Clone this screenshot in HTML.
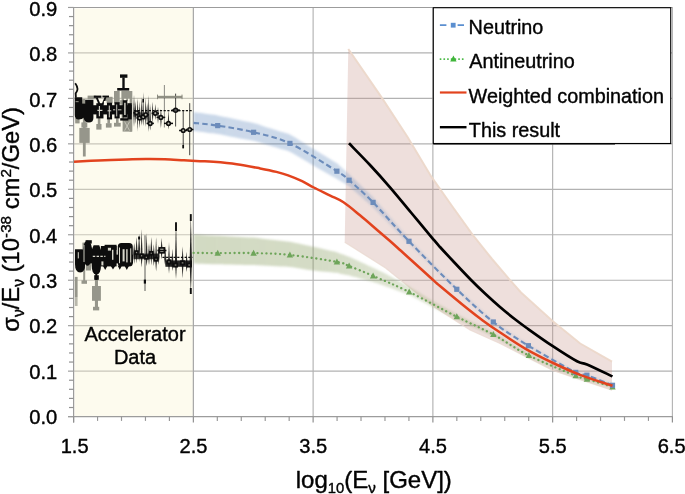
<!DOCTYPE html>
<html><head><meta charset="utf-8"><title>chart</title>
<style>
html,body{margin:0;padding:0;background:#fff;}
body{width:685px;height:494px;overflow:hidden;position:relative;font-family:"Liberation Sans",sans-serif;}
svg{position:absolute;left:0;top:0;}
text{font-family:"Liberation Sans",sans-serif;fill:#000;stroke:#000;stroke-width:0.4px;stroke-linejoin:round;}
</style></head><body>
<svg width="685" height="494" viewBox="0 0 685 494">
<defs>
<filter id="b1" x="-5%" y="-20%" width="110%" height="140%"><feGaussianBlur stdDeviation="0.9"/></filter>
<filter id="b2" x="-5%" y="-5%" width="110%" height="110%"><feGaussianBlur stdDeviation="0.45"/></filter>
<filter id="b3" x="-5%" y="-5%" width="110%" height="110%"><feGaussianBlur stdDeviation="0.35"/></filter>
<filter id="b4" x="-5%" y="-5%" width="110%" height="110%"><feGaussianBlur stdDeviation="0.3"/></filter>
<linearGradient id="gg" gradientUnits="userSpaceOnUse" x1="193" y1="0" x2="613" y2="0"><stop offset="0" stop-color="rgb(140,160,100)" stop-opacity="0.39"/><stop offset="0.3" stop-color="rgb(140,160,100)" stop-opacity="0.37"/><stop offset="0.52" stop-color="rgb(140,160,100)" stop-opacity="0.26"/><stop offset="1" stop-color="rgb(140,160,100)" stop-opacity="0.22"/></linearGradient>
<linearGradient id="bg" gradientUnits="userSpaceOnUse" x1="193" y1="0" x2="613" y2="0"><stop offset="0" stop-color="rgb(100,140,190)" stop-opacity="0.34"/><stop offset="0.33" stop-color="rgb(100,140,190)" stop-opacity="0.32"/><stop offset="0.5" stop-color="rgb(100,140,190)" stop-opacity="0.2"/><stop offset="1" stop-color="rgb(100,140,190)" stop-opacity="0.15"/></linearGradient>
<clipPath id="plot"><rect x="74" y="7" width="598.5" height="409.5"/></clipPath>
</defs>
<rect x="0" y="0" width="685" height="494" fill="#ffffff"/>

<line x1="73.6" x2="672.4" y1="371.14" y2="371.14" stroke="#b2b2b2" stroke-width="1.15"/>
<line x1="73.6" x2="672.4" y1="325.68" y2="325.68" stroke="#b2b2b2" stroke-width="1.15"/>
<line x1="73.6" x2="672.4" y1="280.22" y2="280.22" stroke="#b2b2b2" stroke-width="1.15"/>
<line x1="73.6" x2="672.4" y1="234.76" y2="234.76" stroke="#b2b2b2" stroke-width="1.15"/>
<line x1="73.6" x2="672.4" y1="189.30" y2="189.30" stroke="#b2b2b2" stroke-width="1.15"/>
<line x1="73.6" x2="672.4" y1="143.84" y2="143.84" stroke="#b2b2b2" stroke-width="1.15"/>
<line x1="73.6" x2="672.4" y1="98.38" y2="98.38" stroke="#b2b2b2" stroke-width="1.15"/>
<line x1="73.6" x2="672.4" y1="52.92" y2="52.92" stroke="#b2b2b2" stroke-width="1.15"/>
<line y1="7.4" y2="416.6" x1="313.12" x2="313.12" stroke="#b2b2b2" stroke-width="1.15"/>
<line y1="7.4" y2="416.6" x1="432.88" x2="432.88" stroke="#b2b2b2" stroke-width="1.15"/>
<line y1="7.4" y2="416.6" x1="552.64" x2="552.64" stroke="#b2b2b2" stroke-width="1.15"/>
<rect x="74.4" y="8.4" width="118.5" height="407.5" fill="#fdfbee"/>
<line x1="74.4" x2="192.86" y1="371.14" y2="371.14" stroke="#c8c6ba" stroke-width="1.15"/>
<line x1="74.4" x2="192.86" y1="325.68" y2="325.68" stroke="#c8c6ba" stroke-width="1.15"/>
<line x1="74.4" x2="192.86" y1="280.22" y2="280.22" stroke="#c8c6ba" stroke-width="1.15"/>
<line x1="74.4" x2="192.86" y1="234.76" y2="234.76" stroke="#c8c6ba" stroke-width="1.15"/>
<line x1="74.4" x2="192.86" y1="189.30" y2="189.30" stroke="#c8c6ba" stroke-width="1.15"/>
<line x1="74.4" x2="192.86" y1="143.84" y2="143.84" stroke="#c8c6ba" stroke-width="1.15"/>
<line x1="74.4" x2="192.86" y1="98.38" y2="98.38" stroke="#c8c6ba" stroke-width="1.15"/>
<line x1="74.4" x2="192.86" y1="52.92" y2="52.92" stroke="#c8c6ba" stroke-width="1.15"/>
<line y1="7.4" y2="416.6" x1="193.36" x2="193.36" stroke="#a6a6a6" stroke-width="1.2"/>
<line x1="68.0" x2="672.9" y1="7.45" y2="7.45" stroke="#9c9c9c" stroke-width="1.15"/>
<line x1="672.4" x2="672.4" y1="7" y2="416.6" stroke="#b4b4b4" stroke-width="1.15"/>
<line x1="73.6" x2="73.6" y1="7" y2="422.5" stroke="#9c9c9c" stroke-width="1.2"/>
<line x1="68.0" x2="672.9" y1="416.6" y2="416.6" stroke="#9c9c9c" stroke-width="1.2"/>
<line x1="68.0" x2="73.6" y1="416.60" y2="416.60" stroke="#9c9c9c" stroke-width="1.15"/>
<line x1="69.0" x2="73.6" y1="407.51" y2="407.51" stroke="#929292" stroke-width="1.2"/>
<line x1="69.0" x2="73.6" y1="398.42" y2="398.42" stroke="#929292" stroke-width="1.2"/>
<line x1="69.0" x2="73.6" y1="389.32" y2="389.32" stroke="#929292" stroke-width="1.2"/>
<line x1="69.0" x2="73.6" y1="380.23" y2="380.23" stroke="#929292" stroke-width="1.2"/>
<line x1="68.0" x2="73.6" y1="371.14" y2="371.14" stroke="#9c9c9c" stroke-width="1.15"/>
<line x1="69.0" x2="73.6" y1="362.05" y2="362.05" stroke="#929292" stroke-width="1.2"/>
<line x1="69.0" x2="73.6" y1="352.96" y2="352.96" stroke="#929292" stroke-width="1.2"/>
<line x1="69.0" x2="73.6" y1="343.86" y2="343.86" stroke="#929292" stroke-width="1.2"/>
<line x1="69.0" x2="73.6" y1="334.77" y2="334.77" stroke="#929292" stroke-width="1.2"/>
<line x1="68.0" x2="73.6" y1="325.68" y2="325.68" stroke="#9c9c9c" stroke-width="1.15"/>
<line x1="69.0" x2="73.6" y1="316.59" y2="316.59" stroke="#929292" stroke-width="1.2"/>
<line x1="69.0" x2="73.6" y1="307.50" y2="307.50" stroke="#929292" stroke-width="1.2"/>
<line x1="69.0" x2="73.6" y1="298.40" y2="298.40" stroke="#929292" stroke-width="1.2"/>
<line x1="69.0" x2="73.6" y1="289.31" y2="289.31" stroke="#929292" stroke-width="1.2"/>
<line x1="68.0" x2="73.6" y1="280.22" y2="280.22" stroke="#9c9c9c" stroke-width="1.15"/>
<line x1="69.0" x2="73.6" y1="271.13" y2="271.13" stroke="#929292" stroke-width="1.2"/>
<line x1="69.0" x2="73.6" y1="262.04" y2="262.04" stroke="#929292" stroke-width="1.2"/>
<line x1="69.0" x2="73.6" y1="252.94" y2="252.94" stroke="#929292" stroke-width="1.2"/>
<line x1="69.0" x2="73.6" y1="243.85" y2="243.85" stroke="#929292" stroke-width="1.2"/>
<line x1="68.0" x2="73.6" y1="234.76" y2="234.76" stroke="#9c9c9c" stroke-width="1.15"/>
<line x1="69.0" x2="73.6" y1="225.67" y2="225.67" stroke="#929292" stroke-width="1.2"/>
<line x1="69.0" x2="73.6" y1="216.58" y2="216.58" stroke="#929292" stroke-width="1.2"/>
<line x1="69.0" x2="73.6" y1="207.48" y2="207.48" stroke="#929292" stroke-width="1.2"/>
<line x1="69.0" x2="73.6" y1="198.39" y2="198.39" stroke="#929292" stroke-width="1.2"/>
<line x1="68.0" x2="73.6" y1="189.30" y2="189.30" stroke="#9c9c9c" stroke-width="1.15"/>
<line x1="69.0" x2="73.6" y1="180.21" y2="180.21" stroke="#929292" stroke-width="1.2"/>
<line x1="69.0" x2="73.6" y1="171.12" y2="171.12" stroke="#929292" stroke-width="1.2"/>
<line x1="69.0" x2="73.6" y1="162.02" y2="162.02" stroke="#929292" stroke-width="1.2"/>
<line x1="69.0" x2="73.6" y1="152.93" y2="152.93" stroke="#929292" stroke-width="1.2"/>
<line x1="68.0" x2="73.6" y1="143.84" y2="143.84" stroke="#9c9c9c" stroke-width="1.15"/>
<line x1="69.0" x2="73.6" y1="134.75" y2="134.75" stroke="#929292" stroke-width="1.2"/>
<line x1="69.0" x2="73.6" y1="125.66" y2="125.66" stroke="#929292" stroke-width="1.2"/>
<line x1="69.0" x2="73.6" y1="116.56" y2="116.56" stroke="#929292" stroke-width="1.2"/>
<line x1="69.0" x2="73.6" y1="107.47" y2="107.47" stroke="#929292" stroke-width="1.2"/>
<line x1="68.0" x2="73.6" y1="98.38" y2="98.38" stroke="#9c9c9c" stroke-width="1.15"/>
<line x1="69.0" x2="73.6" y1="89.29" y2="89.29" stroke="#929292" stroke-width="1.2"/>
<line x1="69.0" x2="73.6" y1="80.20" y2="80.20" stroke="#929292" stroke-width="1.2"/>
<line x1="69.0" x2="73.6" y1="71.10" y2="71.10" stroke="#929292" stroke-width="1.2"/>
<line x1="69.0" x2="73.6" y1="62.01" y2="62.01" stroke="#929292" stroke-width="1.2"/>
<line x1="68.0" x2="73.6" y1="52.92" y2="52.92" stroke="#9c9c9c" stroke-width="1.15"/>
<line x1="69.0" x2="73.6" y1="43.83" y2="43.83" stroke="#929292" stroke-width="1.2"/>
<line x1="69.0" x2="73.6" y1="34.74" y2="34.74" stroke="#929292" stroke-width="1.2"/>
<line x1="69.0" x2="73.6" y1="25.64" y2="25.64" stroke="#929292" stroke-width="1.2"/>
<line x1="69.0" x2="73.6" y1="16.55" y2="16.55" stroke="#929292" stroke-width="1.2"/>
<line x1="68.0" x2="73.6" y1="7.46" y2="7.46" stroke="#9c9c9c" stroke-width="1.15"/>
<line y1="416.6" y2="422.5" x1="73.60" x2="73.60" stroke="#909090" stroke-width="1.2"/>
<line y1="416.6" y2="420.9" x1="97.55" x2="97.55" stroke="#969696" stroke-width="1.15"/>
<line y1="416.6" y2="420.9" x1="121.50" x2="121.50" stroke="#969696" stroke-width="1.15"/>
<line y1="416.6" y2="420.9" x1="145.46" x2="145.46" stroke="#969696" stroke-width="1.15"/>
<line y1="416.6" y2="420.9" x1="169.41" x2="169.41" stroke="#969696" stroke-width="1.15"/>
<line y1="416.6" y2="422.5" x1="193.36" x2="193.36" stroke="#909090" stroke-width="1.2"/>
<line y1="416.6" y2="420.9" x1="217.31" x2="217.31" stroke="#969696" stroke-width="1.15"/>
<line y1="416.6" y2="420.9" x1="241.26" x2="241.26" stroke="#969696" stroke-width="1.15"/>
<line y1="416.6" y2="420.9" x1="265.22" x2="265.22" stroke="#969696" stroke-width="1.15"/>
<line y1="416.6" y2="420.9" x1="289.17" x2="289.17" stroke="#969696" stroke-width="1.15"/>
<line y1="416.6" y2="422.5" x1="313.12" x2="313.12" stroke="#909090" stroke-width="1.2"/>
<line y1="416.6" y2="420.9" x1="337.07" x2="337.07" stroke="#969696" stroke-width="1.15"/>
<line y1="416.6" y2="420.9" x1="361.02" x2="361.02" stroke="#969696" stroke-width="1.15"/>
<line y1="416.6" y2="420.9" x1="384.98" x2="384.98" stroke="#969696" stroke-width="1.15"/>
<line y1="416.6" y2="420.9" x1="408.93" x2="408.93" stroke="#969696" stroke-width="1.15"/>
<line y1="416.6" y2="422.5" x1="432.88" x2="432.88" stroke="#909090" stroke-width="1.2"/>
<line y1="416.6" y2="420.9" x1="456.83" x2="456.83" stroke="#969696" stroke-width="1.15"/>
<line y1="416.6" y2="420.9" x1="480.78" x2="480.78" stroke="#969696" stroke-width="1.15"/>
<line y1="416.6" y2="420.9" x1="504.74" x2="504.74" stroke="#969696" stroke-width="1.15"/>
<line y1="416.6" y2="420.9" x1="528.69" x2="528.69" stroke="#969696" stroke-width="1.15"/>
<line y1="416.6" y2="422.5" x1="552.64" x2="552.64" stroke="#909090" stroke-width="1.2"/>
<line y1="416.6" y2="420.9" x1="576.59" x2="576.59" stroke="#969696" stroke-width="1.15"/>
<line y1="416.6" y2="420.9" x1="600.54" x2="600.54" stroke="#969696" stroke-width="1.15"/>
<line y1="416.6" y2="420.9" x1="624.50" x2="624.50" stroke="#969696" stroke-width="1.15"/>
<line y1="416.6" y2="420.9" x1="648.45" x2="648.45" stroke="#969696" stroke-width="1.15"/>
<line y1="416.6" y2="422.5" x1="672.40" x2="672.40" stroke="#909090" stroke-width="1.2"/>
<path d="M348.30,49.00 L381.90,97.90 L407.70,137.30 L431.30,176.70 L452.00,206.00 L472.50,234.70 L492.00,259.00 L509.60,279.70 L521.00,292.50 L552.80,321.20 L580.20,343.50 L612.00,361.70 L612.00,390.20 L552.80,370.40 L500.00,343.50 L470.00,330.00 L432.60,306.00 L385.50,268.00 L344.70,242.20 Z" fill="rgba(200,150,140,0.30)" stroke="none"/>
<path d="M348.30,49.00 L381.90,97.90 L407.70,137.30 L431.30,176.70 L452.00,206.00 L472.50,234.70 L492.00,259.00 L509.60,279.70 L521.00,292.50 L552.80,321.20 L580.20,343.50 L612.00,361.70" fill="none" stroke="rgba(236,216,202,0.95)" stroke-width="2.0" filter="url(#b2)"/>
<path d="M344.70,242.20 L385.50,268.00 L432.60,306.00 L470.00,330.00 L500.00,343.50 L552.80,370.40 L612.00,390.20" fill="none" stroke="rgba(232,215,205,0.7)" stroke-width="1.2"/>
<path d="M193.60,234.50 C194.60,234.56 197.62,234.73 199.62,234.84 C201.63,234.95 203.64,235.07 205.65,235.18 C207.66,235.29 209.67,235.40 211.67,235.52 C213.68,235.63 215.20,235.73 217.70,235.86 C220.20,235.99 223.68,236.14 226.67,236.29 C229.67,236.43 232.66,236.58 235.65,236.72 C238.64,236.86 241.63,237.01 244.62,237.15 C247.62,237.29 250.59,237.33 253.60,237.58 C256.61,237.83 259.65,238.28 262.68,238.63 C265.70,238.98 268.73,239.33 271.75,239.68 C274.77,240.03 277.80,240.39 280.82,240.74 C283.85,241.09 286.43,241.20 289.90,241.79 C293.37,242.39 297.73,243.48 301.65,244.33 C305.57,245.17 309.48,246.00 313.40,246.86 C317.32,247.72 321.23,248.62 325.15,249.51 C329.07,250.39 334.43,251.51 336.90,252.16 C339.37,252.81 338.93,253.02 339.95,253.42 C340.97,253.82 341.98,254.19 343.00,254.57 C344.02,254.95 345.03,255.33 346.05,255.72 C347.07,256.10 347.59,256.22 349.10,256.86 C350.61,257.51 353.10,258.67 355.10,259.58 C357.10,260.48 359.10,261.39 361.10,262.29 C363.10,263.20 365.10,264.10 367.10,264.99 C369.10,265.89 370.60,266.49 373.10,267.67 C375.60,268.85 379.12,270.55 382.12,272.08 C385.13,273.62 388.14,275.27 391.15,276.86 C394.16,278.45 397.17,280.05 400.18,281.64 C403.18,283.23 405.71,284.41 409.20,286.42 C412.69,288.42 417.13,291.24 421.10,293.66 C425.07,296.07 429.03,298.61 433.00,300.90 C436.97,303.19 440.93,305.25 444.90,307.42 C448.87,309.60 453.30,312.07 456.80,313.94 C460.30,315.81 462.88,317.09 465.93,318.64 C468.97,320.19 472.01,321.71 475.05,323.22 C478.09,324.73 481.13,326.21 484.18,327.71 C487.22,329.21 490.30,330.57 493.30,332.20 C496.30,333.83 499.23,335.72 502.20,337.49 C505.17,339.25 508.13,341.01 511.10,342.77 C514.07,344.54 517.03,346.30 520.00,348.06 C522.97,349.82 525.47,351.62 528.90,353.35 C532.33,355.08 536.70,356.75 540.60,358.45 C544.50,360.15 548.40,361.85 552.30,363.55 C556.20,365.25 560.10,366.95 564.00,368.65 C567.90,370.35 573.28,372.75 575.70,373.75 C578.12,374.74 577.57,374.32 578.50,374.61 C579.43,374.89 580.37,375.18 581.30,375.47 C582.23,375.76 583.17,376.04 584.10,376.33 C585.03,376.62 585.37,376.72 586.90,377.19 C588.43,377.67 591.17,378.51 593.30,379.17 C595.43,379.83 597.57,380.49 599.70,381.15 C601.83,381.81 603.97,382.46 606.10,383.12 C608.23,383.78 611.43,384.77 612.50,385.10 L612.50,388.70 C611.43,388.38 608.23,387.42 606.10,386.78 C603.97,386.14 601.83,385.49 599.70,384.85 C597.57,384.21 595.43,383.57 593.30,382.93 C591.17,382.29 588.43,381.47 586.90,381.01 C585.37,380.55 585.03,380.45 584.10,380.17 C583.17,379.89 582.23,379.61 581.30,379.33 C580.37,379.05 579.43,378.77 578.50,378.49 C577.57,378.21 578.12,378.63 575.70,377.65 C573.28,376.68 567.90,374.32 564.00,372.65 C560.10,370.99 556.20,369.32 552.30,367.65 C548.40,365.99 544.50,364.32 540.60,362.65 C536.70,360.99 532.33,359.35 528.90,357.65 C525.47,355.95 522.97,354.18 520.00,352.44 C517.03,350.70 514.07,348.96 511.10,347.23 C508.13,345.49 505.17,343.75 502.20,342.01 C499.23,340.28 496.30,338.41 493.30,336.80 C490.30,335.20 487.22,333.86 484.18,332.39 C481.13,330.92 478.09,329.44 475.05,327.98 C472.01,326.52 468.97,325.07 465.93,323.64 C462.88,322.21 460.30,321.08 456.80,319.39 C453.30,317.69 448.87,315.42 444.90,313.44 C440.93,311.46 436.97,309.52 433.00,307.50 C429.03,305.48 425.07,303.37 421.10,301.30 C417.13,299.23 412.69,296.70 409.20,295.10 C405.71,293.50 403.18,292.84 400.18,291.71 C397.17,290.58 394.16,289.46 391.15,288.33 C388.14,287.21 385.13,286.01 382.12,284.95 C379.12,283.90 375.60,282.79 373.10,282.02 C370.60,281.25 369.10,280.90 367.10,280.34 C365.10,279.79 363.10,279.25 361.10,278.71 C359.10,278.17 357.10,277.64 355.10,277.10 C353.10,276.56 350.61,275.86 349.10,275.49 C347.59,275.12 347.07,275.10 346.05,274.90 C345.03,274.71 344.02,274.51 343.00,274.32 C341.98,274.12 340.97,273.97 339.95,273.73 C338.93,273.48 339.37,273.19 336.90,272.84 C334.43,272.49 329.07,272.04 325.15,271.64 C321.23,271.23 317.32,270.90 313.40,270.40 C309.48,269.90 305.57,269.23 301.65,268.65 C297.73,268.07 293.37,267.27 289.90,266.90 C286.43,266.53 283.85,266.60 280.82,266.45 C277.80,266.30 274.77,266.15 271.75,266.00 C268.73,265.85 265.70,265.70 262.68,265.55 C259.65,265.40 256.61,265.20 253.60,265.09 C250.59,264.98 247.62,264.96 244.62,264.90 C241.63,264.83 238.64,264.77 235.65,264.71 C232.66,264.64 229.67,264.58 226.67,264.51 C223.68,264.45 220.20,264.38 217.70,264.32 C215.20,264.26 213.68,264.20 211.67,264.14 C209.67,264.08 207.66,264.02 205.65,263.96 C203.64,263.90 201.63,263.84 199.62,263.78 C197.62,263.72 194.60,263.63 193.60,263.60 Z" fill="url(#gg)" filter="url(#b1)"/>
<path d="M193.60,111.90 C194.60,112.05 197.62,112.48 199.62,112.77 C201.63,113.07 203.64,113.36 205.65,113.65 C207.66,113.94 209.67,114.23 211.67,114.52 C213.68,114.81 215.20,114.92 217.70,115.40 C220.20,115.87 223.68,116.71 226.67,117.37 C229.67,118.03 232.66,118.68 235.65,119.34 C238.64,120.00 241.63,120.69 244.62,121.31 C247.62,121.94 250.59,122.32 253.60,123.10 C256.61,123.87 259.65,125.01 262.68,125.97 C265.70,126.93 268.73,127.89 271.75,128.85 C274.77,129.81 277.80,130.76 280.82,131.72 C283.85,132.68 286.43,132.93 289.90,134.60 C293.37,136.27 297.73,139.37 301.65,141.75 C305.57,144.14 309.48,146.52 313.40,148.91 C317.32,151.29 321.23,153.66 325.15,156.06 C329.07,158.47 334.43,161.67 336.90,163.34 C339.37,165.00 338.93,165.15 339.95,166.06 C340.97,166.96 341.98,167.87 343.00,168.78 C344.02,169.68 345.03,170.59 346.05,171.50 C347.07,172.40 347.59,172.79 349.10,174.20 C350.61,175.62 353.10,178.07 355.10,180.00 C357.10,181.94 359.10,183.87 361.10,185.80 C363.10,187.74 365.10,189.67 367.10,191.60 C369.10,193.54 370.60,194.73 373.10,197.41 C375.60,200.09 379.08,204.26 382.08,207.68 C385.07,211.10 388.06,214.53 391.05,217.95 C394.04,221.38 397.03,224.80 400.02,228.23 C403.02,231.65 405.51,234.71 409.00,238.50 C412.49,242.29 416.97,246.81 420.95,250.96 C424.93,255.12 428.92,259.30 432.90,263.43 C436.88,267.55 440.87,271.67 444.85,275.73 C448.83,279.80 453.29,284.43 456.80,287.81 C460.31,291.20 462.88,293.30 465.93,296.05 C468.97,298.79 472.01,301.54 475.05,304.28 C478.09,307.03 481.13,309.77 484.18,312.52 C487.22,315.26 490.32,318.39 493.30,320.76 C496.28,323.12 499.15,324.74 502.07,326.73 C505.00,328.71 507.93,330.69 510.85,332.67 C513.77,334.65 516.70,336.63 519.62,338.61 C522.55,340.59 524.97,342.44 528.40,344.55 C531.83,346.66 536.28,349.01 540.23,351.25 C544.17,353.48 548.11,355.71 552.05,357.94 C555.99,360.17 559.93,362.41 563.88,364.64 C567.82,366.87 573.26,370.10 575.70,371.33 C578.14,372.57 577.57,371.80 578.50,372.04 C579.43,372.27 580.37,372.51 581.30,372.74 C582.23,372.98 583.17,373.21 584.10,373.45 C585.03,373.68 585.37,373.61 586.90,374.15 C588.43,374.69 591.17,375.85 593.30,376.69 C595.43,377.54 597.57,378.38 599.70,379.23 C601.83,380.07 603.97,380.92 606.10,381.76 C608.23,382.61 611.43,383.88 612.50,384.30 L612.50,386.30 C611.43,385.88 608.23,384.62 606.10,383.79 C603.97,382.95 601.83,382.11 599.70,381.27 C597.57,380.43 595.43,379.60 593.30,378.76 C591.17,377.92 588.43,376.78 586.90,376.25 C585.37,375.71 585.03,375.78 584.10,375.55 C583.17,375.32 582.23,375.09 581.30,374.86 C580.37,374.62 579.43,374.39 578.50,374.16 C577.57,373.93 578.14,374.69 575.70,373.47 C573.26,372.24 567.82,369.03 563.88,366.81 C559.93,364.59 555.99,362.38 552.05,360.16 C548.11,357.94 544.17,355.72 540.23,353.50 C536.28,351.29 531.83,348.94 528.40,346.85 C524.97,344.76 522.55,342.91 519.62,340.94 C516.70,338.97 513.77,337.00 510.85,335.03 C507.93,333.06 505.00,331.09 502.07,329.12 C499.15,327.16 496.28,325.58 493.30,323.24 C490.32,320.91 487.22,317.84 484.18,315.13 C481.13,312.43 478.09,309.72 475.05,307.02 C472.01,304.31 468.97,301.61 465.93,298.90 C462.88,296.20 460.31,294.13 456.80,290.79 C453.29,287.45 448.83,282.80 444.85,278.87 C440.87,274.93 436.88,271.05 432.90,267.17 C428.92,263.30 424.93,259.48 420.95,255.64 C416.97,251.79 412.49,247.55 409.00,244.10 C405.51,240.65 403.02,237.98 400.02,234.92 C397.03,231.86 394.04,228.81 391.05,225.75 C388.06,222.69 385.07,219.63 382.08,216.57 C379.08,213.51 375.60,209.81 373.10,207.39 C370.60,204.98 369.10,203.86 367.10,202.10 C365.10,200.33 363.10,198.56 361.10,196.80 C359.10,195.03 357.10,193.26 355.10,191.50 C353.10,189.73 350.61,187.39 349.10,186.20 C347.59,185.01 347.07,184.97 346.05,184.36 C345.03,183.75 344.02,183.14 343.00,182.53 C341.98,181.92 340.97,181.31 339.95,180.70 C338.93,180.09 339.37,180.29 336.90,178.88 C334.43,177.46 329.07,174.44 325.15,172.19 C321.23,169.94 317.32,167.66 313.40,165.39 C309.48,163.13 305.57,160.86 301.65,158.60 C297.73,156.33 293.37,153.39 289.90,151.80 C286.43,150.21 283.85,149.98 280.82,149.07 C277.80,148.15 274.77,147.24 271.75,146.33 C268.73,145.42 265.70,144.51 262.68,143.60 C259.65,142.68 256.61,141.59 253.60,140.86 C250.59,140.13 247.62,139.79 244.62,139.22 C241.63,138.65 238.64,138.03 235.65,137.44 C232.66,136.85 229.67,136.25 226.67,135.66 C223.68,135.07 220.20,134.30 217.70,133.88 C215.20,133.46 213.68,133.38 211.67,133.14 C209.67,132.89 207.66,132.64 205.65,132.39 C203.64,132.14 201.63,131.89 199.62,131.65 C197.62,131.40 194.60,131.02 193.60,130.90 Z" fill="url(#bg)" filter="url(#b1)"/>
<path d="M193.60,252.90 C197.62,252.93 207.70,253.07 217.70,253.10 C227.70,253.13 241.57,252.80 253.60,253.10 C265.63,253.40 276.02,253.43 289.90,254.90 C303.78,256.37 327.03,260.05 336.90,261.90 C346.77,263.75 343.07,263.67 349.10,266.00 C355.13,268.33 363.08,271.58 373.10,275.90 C383.12,280.22 395.25,285.10 409.20,291.90 C423.15,298.70 442.78,309.60 456.80,316.70 C470.82,323.80 481.28,328.03 493.30,334.50 C505.32,340.97 515.17,348.63 528.90,355.50 C542.63,362.37 566.03,371.77 575.70,375.70 C585.37,379.63 580.77,377.23 586.90,379.10 C593.03,380.97 608.23,385.60 612.50,386.90" fill="none" stroke="#6ea55a" stroke-width="2.3" stroke-dasharray="0.1 4.45" stroke-linecap="round"/>
<path d="M217.70,249.70 l3.2,6 l-6.4,0 Z" fill="#6ea55a"/>
<path d="M253.60,249.70 l3.2,6 l-6.4,0 Z" fill="#6ea55a"/>
<path d="M289.90,251.50 l3.2,6 l-6.4,0 Z" fill="#6ea55a"/>
<path d="M336.90,258.50 l3.2,6 l-6.4,0 Z" fill="#6ea55a"/>
<path d="M349.10,262.60 l3.2,6 l-6.4,0 Z" fill="#6ea55a"/>
<path d="M373.10,272.50 l3.2,6 l-6.4,0 Z" fill="#6ea55a"/>
<path d="M409.20,288.50 l3.2,6 l-6.4,0 Z" fill="#6ea55a"/>
<path d="M456.80,313.30 l3.2,6 l-6.4,0 Z" fill="#6ea55a"/>
<path d="M493.30,331.10 l3.2,6 l-6.4,0 Z" fill="#6ea55a"/>
<path d="M528.90,352.10 l3.2,6 l-6.4,0 Z" fill="#6ea55a"/>
<path d="M575.70,372.30 l3.2,6 l-6.4,0 Z" fill="#6ea55a"/>
<path d="M586.90,375.70 l3.2,6 l-6.4,0 Z" fill="#6ea55a"/>
<path d="M612.50,383.50 l3.2,6 l-6.4,0 Z" fill="#6ea55a"/>
<path d="M193.60,122.90 C197.62,123.35 207.70,124.03 217.70,125.60 C227.70,127.17 241.57,129.33 253.60,132.30 C265.63,135.27 276.02,136.92 289.90,143.40 C303.78,149.88 327.03,165.07 336.90,171.20 C346.77,177.33 343.07,175.00 349.10,180.20 C355.13,185.40 363.12,192.22 373.10,202.40 C383.08,212.58 395.05,226.82 409.00,241.30 C422.95,255.78 442.75,275.85 456.80,289.30 C470.85,302.75 481.37,312.60 493.30,322.00 C505.23,331.40 514.67,337.30 528.40,345.70 C542.13,354.10 565.95,367.48 575.70,372.40 C585.45,377.32 580.77,373.05 586.90,375.20 C593.03,377.35 608.23,383.62 612.50,385.30" fill="none" stroke="#6c8cbb" stroke-width="2.1" stroke-dasharray="5.6 3.2"/>
<rect x="215.10" y="123.00" width="5.2" height="5.2" fill="#6c8cbb"/>
<rect x="251.00" y="129.70" width="5.2" height="5.2" fill="#6c8cbb"/>
<rect x="287.30" y="140.80" width="5.2" height="5.2" fill="#6c8cbb"/>
<rect x="334.30" y="168.60" width="5.2" height="5.2" fill="#6c8cbb"/>
<rect x="346.50" y="177.60" width="5.2" height="5.2" fill="#6c8cbb"/>
<rect x="370.50" y="199.80" width="5.2" height="5.2" fill="#6c8cbb"/>
<rect x="406.40" y="238.70" width="5.2" height="5.2" fill="#6c8cbb"/>
<rect x="454.20" y="286.70" width="5.2" height="5.2" fill="#6c8cbb"/>
<rect x="490.70" y="319.40" width="5.2" height="5.2" fill="#6c8cbb"/>
<rect x="525.80" y="343.10" width="5.2" height="5.2" fill="#6c8cbb"/>
<rect x="573.10" y="369.80" width="5.2" height="5.2" fill="#6c8cbb"/>
<rect x="584.30" y="372.60" width="5.2" height="5.2" fill="#6c8cbb"/>
<rect x="609.90" y="382.70" width="5.2" height="5.2" fill="#6c8cbb"/>
<path d="M74.00,161.80 C78.08,161.58 89.68,160.90 98.50,160.50 C107.32,160.10 119.00,159.65 126.90,159.40 C134.80,159.15 139.57,159.03 145.90,159.00 C152.23,158.97 158.57,158.98 164.90,159.20 C171.23,159.42 178.05,159.97 183.90,160.30 C189.75,160.63 195.08,160.95 200.00,161.20 C204.92,161.45 207.28,161.30 213.40,161.80 C219.52,162.30 228.92,163.10 236.70,164.20 C244.48,165.30 253.48,167.12 260.10,168.40 C266.72,169.68 271.73,170.73 276.40,171.90 C281.07,173.07 283.82,173.85 288.10,175.40 C292.38,176.95 297.82,179.18 302.10,181.20 C306.38,183.22 309.12,185.10 313.80,187.50 C318.48,189.90 325.25,193.13 330.20,195.60 C335.15,198.07 338.53,199.02 343.50,202.30 C348.47,205.58 354.25,210.57 360.00,215.30 C365.75,220.03 373.00,226.42 378.00,230.70 C383.00,234.98 386.18,237.65 390.00,241.00 C393.82,244.35 397.25,247.52 400.90,250.80 C404.55,254.08 406.62,255.92 411.90,260.70 C417.18,265.48 427.92,275.28 432.60,279.50 C437.28,283.72 434.17,281.12 440.00,286.00 C445.83,290.88 460.58,303.13 467.60,308.80 C474.62,314.47 477.23,316.42 482.10,320.00 C486.97,323.58 489.48,325.45 496.80,330.30 C504.12,335.15 516.27,343.48 526.00,349.10 C535.73,354.72 546.20,359.72 555.20,364.00 C564.20,368.28 570.45,371.17 580.00,374.80 C589.55,378.43 607.08,383.97 612.50,385.80" fill="none" stroke="#e2431e" stroke-width="2.5" stroke-linejoin="round"/>
<path d="M349.00,143.30 C352.50,146.92 363.17,157.67 370.00,165.00 C376.83,172.33 383.17,179.38 390.00,187.30 C396.83,195.22 403.85,203.92 411.00,212.50 C418.15,221.08 428.07,233.05 432.90,238.80 C437.73,244.55 436.65,243.30 440.00,247.00 C443.35,250.70 447.87,255.55 453.00,261.00 C458.13,266.45 465.47,274.28 470.80,279.70 C476.13,285.12 480.13,288.95 485.00,293.50 C489.87,298.05 495.00,302.70 500.00,307.00 C505.00,311.30 510.55,315.80 515.00,319.30 C519.45,322.80 520.40,323.52 526.70,328.00 C533.00,332.48 544.42,340.65 552.80,346.20 C561.18,351.75 571.30,358.27 577.00,361.30 C582.70,364.33 581.08,361.88 587.00,364.40 C592.92,366.92 608.25,374.40 612.50,376.40" fill="none" stroke="#000" stroke-width="2.7" stroke-linejoin="round"/>
<g filter="url(#b3)">
<rect x="82.9" y="118.0" width="2.8" height="38.5" fill="#96968b" />
<rect x="79.3" y="127.9" width="10.4" height="15.0" fill="#96968b" />
<rect x="81.4" y="122.4" width="5.9" height="5.2" fill="#96968b" />
<rect x="75.2" y="118.0" width="4.4" height="5.4" fill="#96968b" />
<rect x="87.6" y="95.6" width="8.8" height="3.6" fill="#96968b" />
<rect x="105.0" y="96.8" width="7.6" height="6.4" fill="#96968b" />
<rect x="97.8" y="118.0" width="2.6" height="6.4" fill="#96968b" />
<rect x="96.3" y="124.0" width="5.2" height="5.6" fill="#96968b" />
<rect x="107.4" y="118.0" width="2.6" height="5.6" fill="#96968b" />
<rect x="105.9" y="123.2" width="5.7" height="4.4" fill="#96968b" />
<rect x="116.0" y="118.0" width="2.6" height="5.2" fill="#96968b" />
<rect x="114.0" y="122.8" width="6.7" height="3.8" fill="#96968b" />
<rect x="122.6" y="119.0" width="9.2" height="12.6" fill="#96968b" />
<rect x="114.0" y="91.0" width="5.7" height="12.5" fill="#96968b" />
<rect x="121.6" y="91.0" width="10.4" height="7.5" fill="#96968b" />
<rect x="121.6" y="91.0" width="2.4" height="29.0" fill="#96968b" />
<rect x="129.6" y="91.0" width="2.7" height="40.6" fill="#96968b" />
<rect x="126.2" y="91.0" width="1.8" height="10.0" fill="#96968b" />
<path d="M75.2,83.2 Q79.4,88.8 75.7,93.4 L75.9,97.6" fill="none" stroke="#111" stroke-width="1.8"/>
<path d="M74.8,97.2 H82.2 V99.6 L84.4,99.8 H93.4 V106 L95,110 L93.4,114 V118 Q93.4,122.6 88.6,122.6 Q84.6,122.6 83.6,117.8 Q82.4,119.6 78.8,119.6 Q74.8,119.6 74.8,115 Z" fill="#111"/>
<rect x="82.2" y="99.0" width="3.0" height="4.6" fill="#96968b" />
<line x1="75.6" x2="78.6" y1="101.6" y2="101.6" stroke="#8b8a80" stroke-width="1.10" stroke-opacity="1.00" />
<rect x="93.8" y="95.6" width="7.6" height="2.2" fill="#111" />
<rect x="102.4" y="95.6" width="6.6" height="1.8" fill="#111" />
<path d="M96.6,97.4 L100.0,105.4 M105.6,97.2 L102.2,105.4" stroke="#111" stroke-width="1.9" fill="none"/>
<rect x="92.5" y="105.2" width="39.3" height="9.2" fill="#111" />
<rect x="96.3" y="103.2" width="7.2" height="15.2" fill="#111" />
<rect x="106.9" y="102.7" width="5.2" height="16.7" fill="#111" />
<rect x="114.5" y="102.2" width="5.2" height="16.2" fill="#111" />
<rect x="122.6" y="100.2" width="4.7" height="17.4" fill="#111" />
<rect x="127.3" y="103.2" width="4.5" height="16.2" fill="#111" />
<rect x="120.2" y="118.2" width="8.2" height="2.4" fill="#111" />
<line x1="99.4" x2="99.4" y1="106.0" y2="116.2" stroke="#d9d8cc" stroke-width="1.10" stroke-opacity="1.00"/>
<line x1="97.4" x2="102.4" y1="110.4" y2="110.4" stroke="#d9d8cc" stroke-width="1.20" stroke-opacity="1.00" />
<line x1="109.3" x2="109.3" y1="105.6" y2="117.4" stroke="#d9d8cc" stroke-width="1.00" stroke-opacity="1.00"/>
<line x1="107.6" x2="111.2" y1="110.8" y2="110.8" stroke="#d9d8cc" stroke-width="1.00" stroke-opacity="1.00" />
<line x1="116.7" x2="116.7" y1="104.6" y2="116.4" stroke="#d9d8cc" stroke-width="0.90" stroke-opacity="1.00"/>
<line x1="113.0" x2="115.2" y1="109.8" y2="109.8" stroke="#d9d8cc" stroke-width="0.90" stroke-opacity="1.00" />
<line x1="118.0" x2="121.4" y1="109.8" y2="109.8" stroke="#d9d8cc" stroke-width="0.90" stroke-opacity="1.00" />
<rect x="124.2" y="102.8" width="1.4" height="12.2" fill="#d9d8cc" />
<rect x="103.9" y="101.0" width="2.7" height="3.8" fill="#fdfbee" />
<rect x="104.2" y="115.0" width="2.2" height="3.6" fill="#fdfbee" />
<rect x="112.6" y="115.0" width="1.4" height="3.0" fill="#fdfbee" />
<rect x="120.2" y="100.2" width="2.0" height="4.4" fill="#96968b" />
<path d="M124.6,121.6 L129.6,130.6 M129.6,121.6 L124.6,130.6" stroke="#cfcec3" stroke-width="0.8" fill="none"/>
<rect x="120.0" y="74.4" width="7.4" height="3.4" fill="#111" />
<rect x="122.3" y="77.5" width="2.4" height="11.1" fill="#111" />
<rect x="117.2" y="88.0" width="12.0" height="2.6" fill="#111" />
</g>
<g filter="url(#b4)">
<path d="M134.0,95.1 L134.8,112.0 L134.0,127.5 L133.2,112.0 Z" fill="#111" fill-opacity="0.85"/>
<path d="M135.4,101.0 L136.2,113.0 L135.4,124.0 L134.6,113.0 Z" fill="#111" fill-opacity="0.85"/>
<path d="M137.6,98.1 L138.4,114.0 L137.6,131.5 L136.8,114.0 Z" fill="#111" fill-opacity="0.85"/>
<path d="M139.6,101.0 L140.4,117.9 L139.6,128.0 L138.8,117.9 Z" fill="#111" fill-opacity="0.85"/>
<path d="M141.4,97.0 L142.2,116.0 L141.4,126.0 L140.6,116.0 Z" fill="#111" fill-opacity="0.85"/>
<path d="M143.2,92.0 L144.0,116.9 L143.2,126.0 L142.3,116.9 Z" fill="#111" fill-opacity="0.85"/>
<path d="M145.7,98.0 L146.5,114.8 L145.7,127.0 L144.8,114.8 Z" fill="#111" fill-opacity="0.85"/>
<path d="M147.2,103.0 L148.0,115.0 L147.2,125.0 L146.3,115.0 Z" fill="#111" fill-opacity="0.85"/>
<path d="M148.7,95.1 L149.5,118.0 L148.7,132.5 L147.8,118.0 Z" fill="#111" fill-opacity="0.85"/>
<path d="M150.2,104.0 L151.0,123.4 L150.2,130.5 L149.3,123.4 Z" fill="#111" fill-opacity="0.85"/>
<path d="M152.6,102.0 L153.4,114.0 L152.6,123.0 L151.8,114.0 Z" fill="#111" fill-opacity="0.85"/>
<path d="M155.3,104.0 L156.2,113.3 L155.3,120.0 L154.5,113.3 Z" fill="#111" fill-opacity="0.85"/>
<path d="M158.0,107.0 L158.8,115.0 L158.0,124.0 L157.2,115.0 Z" fill="#111" fill-opacity="0.85"/>
<path d="M160.9,109.0 L161.8,117.4 L160.9,128.5 L160.1,117.4 Z" fill="#111" fill-opacity="0.85"/>
<path d="M168.5,110.0 L169.3,123.4 L168.5,129.5 L167.7,123.4 Z" fill="#111" fill-opacity="0.85"/>
<line x1="133.4" x2="147.4" y1="114.6" y2="114.6" stroke="#111" stroke-width="4.20" stroke-opacity="0.55" />
<line x1="164.4" x2="164.4" y1="85.0" y2="127.5" stroke="#333" stroke-width="0.80" stroke-opacity="0.70"/>
<line x1="175.6" x2="175.6" y1="93.6" y2="126.5" stroke="#1a1a1a" stroke-width="0.90" stroke-opacity="0.90"/>
<line x1="183.2" x2="183.2" y1="110.5" y2="148.0" stroke="#1a1a1a" stroke-width="0.90" stroke-opacity="0.90"/>
<line x1="189.7" x2="189.7" y1="103.2" y2="155.2" stroke="#1a1a1a" stroke-width="0.90" stroke-opacity="0.90"/>
<line x1="143.2" x2="143.2" y1="99.0" y2="102.4" stroke="#111" stroke-width="1.60" stroke-opacity="1.00"/>
<line x1="183.2" x2="183.2" y1="145.0" y2="148.4" stroke="#111" stroke-width="1.70" stroke-opacity="1.00"/>
<line x1="157.3" x2="182.2" y1="96.9" y2="96.9" stroke="#8a8a7e" stroke-width="2.20" stroke-opacity="0.95" />
<line x1="157.5" x2="157.5" y1="94.6" y2="99.2" stroke="#8a8a7e" stroke-width="1.00" stroke-opacity="1.00"/>
<line x1="182.0" x2="182.0" y1="94.6" y2="99.2" stroke="#8a8a7e" stroke-width="1.00" stroke-opacity="1.00"/>
<line x1="134.0" x2="192.6" y1="110.6" y2="110.6" stroke="#111" stroke-width="1.30" stroke-opacity="1.00" stroke-dasharray="2.2 1.5"/>
<line x1="133.3" x2="139.9" y1="112.8" y2="112.8" stroke="#111" stroke-width="1.50" stroke-opacity="1.00" />
<circle cx="136.6" cy="112.8" r="1.8" fill="#bdbcb0" stroke="#111" stroke-width="1.6"/>
<line x1="136.3" x2="142.9" y1="117.9" y2="117.9" stroke="#111" stroke-width="1.50" stroke-opacity="1.00" />
<circle cx="139.6" cy="117.9" r="1.8" fill="#bdbcb0" stroke="#111" stroke-width="1.6"/>
<line x1="139.9" x2="146.5" y1="116.9" y2="116.9" stroke="#111" stroke-width="1.50" stroke-opacity="1.00" />
<circle cx="143.2" cy="116.9" r="1.8" fill="#bdbcb0" stroke="#111" stroke-width="1.6"/>
<line x1="142.4" x2="149.0" y1="114.8" y2="114.8" stroke="#111" stroke-width="1.50" stroke-opacity="1.00" />
<circle cx="145.7" cy="114.8" r="1.8" fill="#bdbcb0" stroke="#111" stroke-width="1.6"/>
<line x1="146.5" x2="153.9" y1="123.4" y2="123.4" stroke="#111" stroke-width="1.50" stroke-opacity="1.00" />
<circle cx="150.2" cy="123.4" r="1.8" fill="#bdbcb0" stroke="#111" stroke-width="1.6"/>
<line x1="151.6" x2="159.0" y1="113.3" y2="113.3" stroke="#111" stroke-width="1.50" stroke-opacity="1.00" />
<circle cx="155.3" cy="113.3" r="1.8" fill="#bdbcb0" stroke="#111" stroke-width="1.6"/>
<line x1="156.6" x2="165.2" y1="117.4" y2="117.4" stroke="#111" stroke-width="1.50" stroke-opacity="1.00" />
<circle cx="160.9" cy="117.4" r="1.8" fill="#bdbcb0" stroke="#111" stroke-width="1.6"/>
<line x1="164.0" x2="173.0" y1="123.4" y2="123.4" stroke="#111" stroke-width="1.50" stroke-opacity="1.00" />
<circle cx="168.5" cy="123.4" r="1.8" fill="#bdbcb0" stroke="#111" stroke-width="1.6"/>
<line x1="179.1" x2="187.3" y1="130.5" y2="130.5" stroke="#111" stroke-width="1.50" stroke-opacity="1.00" />
<circle cx="183.2" cy="130.5" r="1.8" fill="#bdbcb0" stroke="#111" stroke-width="1.6"/>
<line x1="186.0" x2="193.4" y1="129.5" y2="129.5" stroke="#111" stroke-width="1.50" stroke-opacity="1.00" />
<circle cx="189.7" cy="129.5" r="1.8" fill="#bdbcb0" stroke="#111" stroke-width="1.6"/>
<line x1="171.6" x2="179.8" y1="110.3" y2="110.3" stroke="#111" stroke-width="2.00" stroke-opacity="1.00" />
<circle cx="175.6" cy="110.3" r="2.0" fill="#555" stroke="#111" stroke-width="1.4"/>
</g>
<g filter="url(#b3)">
<rect x="74.8" y="276.9" width="2.8" height="20.1" fill="#96968b" />
<rect x="74.8" y="297.0" width="2.8" height="9.0" fill="#b9b8ac" />
<rect x="83.2" y="266.0" width="2.0" height="15.0" fill="#96968b" />
<rect x="81.5" y="280.4" width="5.5" height="3.4" fill="#96968b" />
<rect x="82.4" y="242.6" width="2.6" height="11.4" fill="#96968b" />
<rect x="94.9" y="279.0" width="3.1" height="31.0" fill="#96968b" />
<rect x="92.0" y="286.0" width="8.9" height="14.8" fill="#96968b" />
<rect x="93.0" y="306.8" width="6.2" height="3.6" fill="#96968b" />
<rect x="86.0" y="262.0" width="5.0" height="8.5" fill="#96968b" />
<path d="M75.0,249.2 H82.4 L85.2,252 V264 Q85.2,272.6 80.2,272.6 Q75.0,272.6 75.0,264 Z" fill="#111"/>
<ellipse cx="87.5" cy="253.2" rx="4.9" ry="12.6" fill="#111"/>
<rect x="85.6" y="240.2" width="6.2" height="3.4" fill="#111" />
<path d="M93.6,245.2 H99.2 L101,250 V265 Q101,274.6 96.3,274.6 Q91.7,274.6 91.7,265 V250 Z" fill="#111"/>
<rect x="95.3" y="272.0" width="1.9" height="8.0" fill="#111" />
<rect x="94.2" y="275.2" width="4.6" height="4.6" fill="#111" />
<rect x="76.0" y="254.6" width="57.0" height="8.8" fill="#111" />
<rect x="100.9" y="246.0" width="15.7" height="20.4" fill="#111" />
<rect x="104.6" y="244.8" width="12.0" height="5.2" fill="#111" />
<rect x="117.8" y="243.0" width="15.0" height="23.6" rx="3.6" fill="#111"/>
<path d="M103,266 L105.2,270 L107.4,266 Z M110.8,266 L113.0,269.6 L115.2,266 Z M117.6,265.6 L119.8,269.8 L122,265.6 Z M124.4,265.6 L126.8,270 L129.2,265.6 Z" fill="#111"/>
<rect x="119.0" y="247.5" width="1.0" height="15.7" fill="#d9d8cc" />
<rect x="122.6" y="249.2" width="2.0" height="12.2" fill="#d9d8cc" />
<rect x="126.2" y="249.2" width="1.4" height="13.2" fill="#d9d8cc" />
<rect x="130.2" y="248.4" width="1.0" height="14.0" fill="#d9d8cc" />
<rect x="107.9" y="247.8" width="3.1" height="2.8" fill="#d9d8cc" />
<rect x="112.0" y="249.8" width="1.4" height="10.0" fill="#d9d8cc" />
<rect x="101.4" y="261.4" width="2.0" height="4.0" fill="#d9d8cc" />
<line x1="92.8" x2="105.4" y1="256.4" y2="256.4" stroke="#d9d8cc" stroke-width="1.20" stroke-opacity="1.00" stroke-dasharray="2.4 1.4"/>
<rect x="77.8" y="252.2" width="1.0" height="6.2" fill="#d9d8cc" />
<line x1="84.0" x2="84.0" y1="245.0" y2="262.0" stroke="#d9d8cc" stroke-width="0.90" stroke-opacity="1.00"/>
</g>
<g filter="url(#b4)">
<path d="M134.2,243.0 L135.2,253.0 L134.2,264.0 L133.2,253.0 Z" fill="#111" fill-opacity="0.88"/>
<path d="M136.6,237.1 L137.6,252.3 L136.6,263.4 L135.6,252.3 Z" fill="#111" fill-opacity="0.88"/>
<path d="M139.1,234.1 L140.1,249.0 L139.1,262.0 L138.1,249.0 Z" fill="#111" fill-opacity="0.88"/>
<path d="M141.6,229.0 L142.6,255.8 L141.6,267.5 L140.6,255.8 Z" fill="#111" fill-opacity="0.88"/>
<path d="M146.6,233.1 L147.6,257.4 L146.6,266.5 L145.6,257.4 Z" fill="#111" fill-opacity="0.88"/>
<path d="M149.0,243.0 L150.0,256.0 L149.0,265.0 L148.0,256.0 Z" fill="#111" fill-opacity="0.88"/>
<path d="M151.3,237.1 L152.3,253.3 L151.3,265.5 L150.3,253.3 Z" fill="#111" fill-opacity="0.88"/>
<path d="M153.8,244.0 L154.8,257.0 L153.8,266.0 L152.8,257.0 Z" fill="#111" fill-opacity="0.88"/>
<path d="M156.1,237.1 L157.1,259.4 L156.1,271.5 L155.1,259.4 Z" fill="#111" fill-opacity="0.88"/>
<path d="M158.6,245.0 L159.6,256.0 L158.6,265.0 L157.6,256.0 Z" fill="#111" fill-opacity="0.88"/>
<path d="M161.6,238.1 L162.6,250.5 L161.6,259.4 L160.6,250.5 Z" fill="#111" fill-opacity="0.88"/>
<path d="M165.2,246.0 L166.2,259.0 L165.2,266.0 L164.2,259.0 Z" fill="#111" fill-opacity="0.88"/>
<path d="M169.0,242.2 L170.0,261.9 L169.0,273.6 L168.0,261.9 Z" fill="#111" fill-opacity="0.88"/>
<path d="M172.4,249.0 L173.4,263.0 L172.4,271.0 L171.4,263.0 Z" fill="#111" fill-opacity="0.88"/>
<path d="M182.6,246.2 L183.6,262.9 L182.6,278.0 L181.6,262.9 Z" fill="#111" fill-opacity="0.88"/>
<path d="M186.6,251.6 L187.6,264.0 L186.6,272.0 L185.6,264.0 Z" fill="#111" fill-opacity="0.88"/>
<line x1="145.0" x2="145.0" y1="235.4" y2="291.0" stroke="#1a1a1a" stroke-width="0.90" stroke-opacity="0.80"/>
<rect x="143.8" y="279.6" width="2.2" height="4.0" fill="#111" />
<line x1="139.1" x2="139.1" y1="236.5" y2="239.5" stroke="#111" stroke-width="2.00" stroke-opacity="1.00"/>
<path d="M176.0,222.2 L177.1,262.0 L176.0,279.0 L174.9,262.0 Z" fill="#111" fill-opacity="0.90"/>
<path d="M190.8,214.1 L192.0,262.0 L190.8,294.0 L189.6,262.0 Z" fill="#111" fill-opacity="0.90"/>
<line x1="162.4" x2="192.4" y1="257.3" y2="257.3" stroke="#111" stroke-width="1.30" stroke-opacity="1.00" stroke-dasharray="2.2 1.5"/>
<line x1="176.0" x2="176.0" y1="222.2" y2="231.0" stroke="#111" stroke-width="1.90" stroke-opacity="1.00"/>
<line x1="190.8" x2="190.8" y1="214.1" y2="221.0" stroke="#111" stroke-width="1.90" stroke-opacity="1.00"/>
<line x1="190.8" x2="190.8" y1="288.0" y2="294.0" stroke="#111" stroke-width="1.90" stroke-opacity="1.00"/>
<line x1="133.6" x2="158.6" y1="256.4" y2="256.4" stroke="#111" stroke-width="5.60" stroke-opacity="0.82" />
<rect x="135.1" y="251.1" width="2.9" height="2.9" fill="#8f8e84" stroke="#111" stroke-width="1.7"/>
<rect x="140.1" y="254.3" width="2.9" height="2.9" fill="#8f8e84" stroke="#111" stroke-width="1.7"/>
<rect x="144.9" y="255.9" width="2.9" height="2.9" fill="#8f8e84" stroke="#111" stroke-width="1.7"/>
<rect x="149.8" y="251.8" width="2.9" height="2.9" fill="#8f8e84" stroke="#111" stroke-width="1.7"/>
<rect x="154.6" y="257.9" width="2.9" height="2.9" fill="#8f8e84" stroke="#111" stroke-width="1.7"/>
<rect x="159.4" y="247.9" width="4.9" height="4.9" fill="#c4c3b7" stroke="#111" stroke-width="1.7"/>
<line x1="157.4" x2="166.4" y1="250.5" y2="250.5" stroke="#111" stroke-width="1.60" stroke-opacity="1.00" />
<line x1="165.4" x2="192.0" y1="263.6" y2="263.6" stroke="#111" stroke-width="6.40" stroke-opacity="0.90" />
<rect x="167.3" y="260.2" width="3.3" height="3.3" fill="#6b6a62" stroke="#111" stroke-width="1.7"/>
<rect x="173.9" y="263.4" width="3.3" height="3.3" fill="#6b6a62" stroke="#111" stroke-width="1.7"/>
<rect x="180.9" y="261.2" width="3.3" height="3.3" fill="#6b6a62" stroke="#111" stroke-width="1.7"/>
<rect x="187.5" y="263.4" width="3.3" height="3.3" fill="#6b6a62" stroke="#111" stroke-width="1.7"/>
</g>
<rect x="433.3" y="7.7" width="237.4" height="135.8" fill="#fff" stroke="#000" stroke-width="1.1"/>
<line x1="433.3" x2="615" y1="143.7" y2="143.7" stroke="#000" stroke-width="1.4"/>
<path d="M439.9,25.1 H446.4 M457.6,25.1 H464" stroke="#5b8fd0" stroke-width="1.8" fill="none"/>
<rect x="450.8" y="22.8" width="4.8" height="4.8" fill="#5b8fd0"/>
<path d="M440.5,59.1 H465" stroke="#3fb53a" stroke-width="1.9" stroke-dasharray="0.1 3.6" stroke-linecap="round" fill="none"/>
<path d="M453.4,55.6 l3.2,5.8 l-6.4,0 Z" fill="#3fb53a"/>
<line x1="439.9" x2="466.5" y1="92.5" y2="92.5" stroke="#e2431e" stroke-width="2.2"/>
<line x1="439.9" x2="466.5" y1="127.2" y2="127.2" stroke="#000" stroke-width="2.4"/>
<g opacity="0.996">
<text x="468.6" y="34.4" font-size="19.8">Neutrino</text>
<text x="469.2" y="68.4" font-size="19.8">Antineutrino</text>
<text x="468.6" y="102.8" font-size="19.8">Weighted combination</text>
<text x="468.8" y="136.5" font-size="19.8">This result</text>
<text x="57.25" y="424.10" font-size="20.2" text-anchor="end">0.0</text>
<text x="57.25" y="378.74" font-size="20.2" text-anchor="end">0.1</text>
<text x="57.25" y="333.38" font-size="20.2" text-anchor="end">0.2</text>
<text x="57.25" y="288.02" font-size="20.2" text-anchor="end">0.3</text>
<text x="57.25" y="242.66" font-size="20.2" text-anchor="end">0.4</text>
<text x="57.25" y="197.30" font-size="20.2" text-anchor="end">0.5</text>
<text x="57.25" y="151.94" font-size="20.2" text-anchor="end">0.6</text>
<text x="57.25" y="106.58" font-size="20.2" text-anchor="end">0.7</text>
<text x="57.25" y="61.22" font-size="20.2" text-anchor="end">0.8</text>
<text x="57.25" y="15.86" font-size="20.2" text-anchor="end">0.9</text>
<text x="74.60" y="452.9" font-size="20.1" text-anchor="middle">1.5</text>
<text x="193.46" y="452.9" font-size="20.1" text-anchor="middle">2.5</text>
<text x="313.22" y="452.9" font-size="20.1" text-anchor="middle">3.5</text>
<text x="432.98" y="452.9" font-size="20.1" text-anchor="middle">4.5</text>
<text x="552.74" y="452.9" font-size="20.1" text-anchor="middle">5.5</text>
<text x="671.60" y="452.9" font-size="20.1" text-anchor="middle">6.5</text>
<text x="135.0" y="340.8" font-size="20" text-anchor="middle">Accelerator</text>
<text x="135.0" y="364.3" font-size="20" text-anchor="middle">Data</text>
<text transform="translate(295.7,487.8)" font-size="24.0">log<tspan font-size="14.8" dy="5.6">10</tspan><tspan dy="-5.6">(E</tspan><tspan font-size="15.2" dy="5.6">ν</tspan><tspan dy="-5.6"> [GeV])</tspan></text>
<text transform="translate(18.9,331.7) rotate(-90)" font-size="23.8">σ<tspan font-size="15.6" dy="5">ν</tspan><tspan dy="-5">/E</tspan><tspan font-size="15.6" dy="5">ν</tspan><tspan dy="-5"> (10</tspan><tspan font-size="15.2" dy="-8">-38</tspan><tspan dy="8"> cm</tspan><tspan font-size="15.2" dy="-8">2</tspan><tspan dy="8">/GeV)</tspan></text>
</g>
</svg></body></html>
